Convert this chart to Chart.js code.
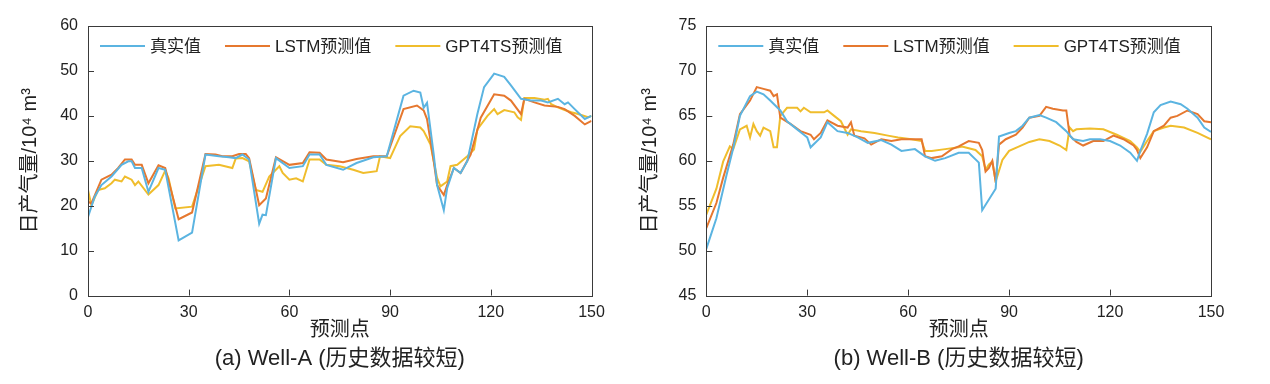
<!DOCTYPE html>
<html>
<head>
<meta charset="utf-8">
<script src="https://cdn.jsdelivr.net/npm/chart.js@4/dist/chart.umd.min.js"></script>
<style>
  html, body { margin: 0; padding: 0; background: #fff; }
  body { width: 1270px; height: 384px; position: relative; overflow: hidden; }
  canvas { position: absolute; top: 0; }
  #chartA { left: 0; }
  #chartB { left: 620px; }
</style>
</head>
<body>
<canvas id="chartA" width="635" height="384"></canvas>
<canvas id="chartB" width="650" height="384"></canvas>
<script>
// series names
const seriesNames = ["真实值", "LSTM预测值", "GPT4TS预测值"];
const seriesColors = ["#5bb4e1", "#e6782f", "#f0bd2c"];

// x ticks (预测点)
const xTicks = [0, 30, 60, 90, 120, 150];
const yTicksA = [0, 10, 20, 30, 40, 50, 60];
const yTicksB = [45, 50, 55, 60, 65, 70, 75];

// Well-A, [预测点, 日产气量]
const wellATrue = [[0,17.5],[2,22],[4,24.6],[7,26.5],[10,29.1],[12,29.9],[13,29.9],[14,28.4],[16,28.4],[18,23.1],[21,28.4],[23,28],[27,12.3],[31,14],[35,31.4],[39,31],[42,30.8],[44,30.6],[46,31.4],[48,30.3],[51,16],[52,18],[53,17.9],[56,30.6],[60,28.4],[64,28.8],[66,31.4],[69,31.4],[71,29.1],[76,28],[80,29.5],[85,30.8],[89,31],[94,44.5],[97,45.6],[99,45.2],[100,41.8],[101,42.9],[103,31.4],[104,24.6],[106,19],[107,23.9],[109,28.4],[111,27.3],[113,29.9],[116,40.4],[118,46.4],[121,49.4],[124,48.7],[126,46.8],[129,43.8],[132,43.4],[135,43.4],[137,43],[140,43.8],[142,42.6],[143,43],[145,41.5],[148,39.3],[150,40]];
const wellALstm = [[0,20.9],[1,20.5],[4,25.8],[7,26.9],[9,28.4],[11,30.3],[13,30.3],[14,29.1],[16,29.1],[18,25],[21,29],[23,28.4],[27,17],[31,18.5],[35,31.5],[38,31.4],[40,31],[43,31],[45,31.5],[47,31.5],[48,30.6],[51,20.1],[53,21.6],[56,30.8],[60,29.1],[64,29.5],[66,31.9],[69,31.8],[71,30.3],[76,29.7],[80,30.4],[85,31],[89,31],[94,41.5],[98,42.3],[100,41.2],[101,39.3],[103,29.9],[104,24.6],[106,22.4],[107,24.6],[109,28.4],[111,27.3],[114,31.4],[117,39.6],[121,44.8],[124,44.5],[126,43.4],[129,40.4],[130,43.8],[133,43],[136,42.3],[140,42],[142,41.5],[145,40],[148,38.1],[150,38.9]];
const wellAGpt = [[0,23.5],[1,20.1],[3,23.5],[5,23.9],[7,25],[8,25.8],[10,25.4],[11,26.5],[13,25.8],[14,24.6],[15,25.4],[18,22.5],[21,24.6],[23,27.8],[24,26.1],[26,19.4],[31,19.8],[35,28.8],[39,29.1],[43,28.4],[44,30.5],[46,30.6],[48,29.9],[50,23.5],[52,23.1],[54,26.5],[57,28.8],[58,27.3],[60,25.8],[62,26.1],[64,25.4],[66,30.3],[69,30.3],[71,29.1],[75,28.8],[79,28],[82,27.3],[86,27.7],[87,31],[90,30.6],[93,35.5],[96,37.7],[99,37.4],[100,36.6],[102,33.7],[104,26.2],[105,24.3],[107,25.4],[108,28.8],[110,29.1],[113,31],[115,32.5],[116,37],[119,40],[121,41.5],[122,40.4],[124,41.3],[127,40.8],[128,39.7],[129,39.1],[130,44],[133,44],[136,43.6],[137,43.8],[138,42.6],[140,41.9],[142,41.3],[144,40.8],[146,40.4],[149,39.7],[150,40]];

// Well-B
const wellBTrue = [[0,50.2],[3,53.6],[6,58.4],[8,61.4],[10,65],[13,67.2],[15,67.7],[17,67.4],[19,66.7],[22,65.6],[24,64.4],[27,63.5],[29,62.9],[30,62.6],[31,61.5],[34,62.6],[36,64.3],[39,63.3],[42,63.1],[45,62.6],[48,62],[52,62.3],[55,61.8],[58,61.1],[62,61.3],[65,60.5],[68,60],[71,60.3],[75,60.9],[78,60.9],[81,59.8],[82,54.5],[86,56.9],[87,62.7],[90,63.1],[92,63.3],[94,63.9],[96,64.8],[99,65.1],[101,64.8],[104,64.3],[107,63.3],[109,62.4],[112,62.2],[114,62.4],[117,62.4],[120,62.2],[123,61.7],[126,60.9],[128,60],[129,61.1],[131,63],[133,65.4],[135,66.2],[138,66.6],[141,66.3],[143,65.8],[146,64.8],[148,63.7],[150,63.2]];
const wellBLstm = [[0,52.5],[3,55.3],[5,58.1],[8,61.8],[10,65.2],[13,66.7],[15,68.2],[17,68],[19,67.8],[20,67.2],[21,67.4],[22,64.8],[25,64.1],[28,63.3],[31,62.9],[32,62.4],[34,63.1],[36,64.5],[39,63.9],[42,63.7],[43,64.3],[44,62.8],[47,62.5],[49,61.8],[52,62.4],[55,62.2],[58,62.4],[61,62.4],[64,62.4],[65,60.5],[67,60.3],[70,60.5],[73,61.3],[75,61.6],[78,62.2],[81,62],[82,61.2],[83,58.8],[84,59.2],[85,60],[86,57.7],[87,61.8],[89,62.4],[92,62.9],[94,63.7],[96,64.8],[99,65],[101,66],[103,65.8],[106,65.6],[107,65.6],[108,62.8],[110,62.1],[112,61.7],[115,62.2],[118,62.2],[121,62.8],[124,62.4],[127,61.7],[128,61.2],[129,60.3],[131,61.5],[133,63.3],[136,63.9],[138,64.8],[140,65],[143,65.6],[146,65.2],[148,64.4],[150,64.3]];
const wellBGpt = [[0,54],[3,56.9],[5,59.9],[7,61.6],[8,61.3],[10,63.5],[12,63.9],[13,62.6],[14,64.1],[15,63.3],[16,62.8],[17,63.7],[19,63.3],[20,61.5],[21,61.5],[22,65],[24,65.9],[27,65.9],[28,65.5],[29,65.9],[31,65.4],[35,65.4],[36,65.6],[38,65],[40,64.4],[42,62.9],[43,63.5],[46,63.3],[50,63.1],[54,62.8],[57,62.6],[61,62.4],[64,62.2],[65,61.1],[67,61.1],[71,61.3],[75,61.5],[76,61.6],[80,61.2],[82,60.5],[83,59],[84,59.6],[85,59.9],[86,57.7],[88,60.1],[90,61.1],[93,61.6],[96,62.1],[99,62.4],[102,62.2],[105,61.7],[107,61.2],[108,63.7],[109,63.3],[110,63.5],[114,63.6],[118,63.5],[122,62.9],[126,62.2],[128,61.5],[129,61],[131,62.2],[133,63.3],[136,63.7],[138,63.9],[142,63.7],[146,63.1],[150,62.4]];

const FONT = "'Liberation Sans', Arial, 'Noto Sans CJK SC', sans-serif";
Chart.defaults.font.family = FONT;
Chart.defaults.color = "#222";

// box frame + inward ticks
const framePlugin = {
  id: "frame",
  afterDatasetsDraw(chart) {
    const { ctx, chartArea: a, scales: { x, y } } = chart;
    ctx.save();
    ctx.strokeStyle = "#3a3a3a";
    ctx.lineWidth = 1;
    ctx.strokeRect(Math.round(a.left) + 0.5, Math.round(a.top) + 0.5,
      Math.round(a.right - a.left), Math.round(a.bottom - a.top));
    ctx.beginPath();
    x.ticks.forEach(t => {
      const px = Math.round(x.getPixelForValue(t.value)) + 0.5;
      ctx.moveTo(px, a.bottom);
      ctx.lineTo(px, a.bottom - 6);
    });
    y.ticks.forEach(t => {
      const py = Math.round(y.getPixelForValue(t.value)) + 0.5;
      ctx.moveTo(a.left, py);
      ctx.lineTo(a.left + 6, py);
    });
    ctx.stroke();
    ctx.restore();
  }
};

// legend drawn inside the plot box, in one row
const innerLegend = {
  id: "innerLegend",
  afterDatasetsDraw(chart) {
    const { ctx, chartArea: a } = chart;
    ctx.save();
    ctx.font = "17px " + FONT;
    ctx.textBaseline = "middle";
    ctx.fillStyle = "#222";
    let cx = a.left + 12;
    const cy = a.top + 20;
    chart.data.datasets.forEach(ds => {
      ctx.strokeStyle = ds.borderColor;
      ctx.lineWidth = 2;
      ctx.beginPath();
      ctx.moveTo(cx, cy);
      ctx.lineTo(cx + 45, cy);
      ctx.stroke();
      ctx.fillText(ds.label, cx + 50, cy + 1);
      cx += 50 + ctx.measureText(ds.label).width + 24;
    });
    ctx.restore();
  }
};

function makePanel(id, lists, yTicks, caption, yWidth, padRight) {
  new Chart(document.getElementById(id), {
    type: "line",
    data: {
      datasets: lists.map((pts, i) => ({
        label: seriesNames[i],
        data: pts.map(p => ({ x: p[0], y: p[1] })),
        borderColor: seriesColors[i],
        borderWidth: 2,
        pointRadius: 0,
        tension: 0,
        fill: false
      }))
    },
    options: {
      responsive: false,
      animation: false,
      devicePixelRatio: 1,
      layout: { padding: { top: 26, right: padRight, bottom: 10, left: 0 } },
      plugins: {
        legend: { display: false },
        tooltip: { enabled: false },
        title: {
          display: true,
          position: "bottom",
          fullSize: false,
          text: caption,
          color: "#222",
          font: { size: 22, weight: "normal" },
          padding: { top: 0, bottom: 2 }
        }
      },
      scales: {
        x: {
          type: "linear",
          min: xTicks[0],
          max: xTicks[xTicks.length - 1],
          afterBuildTicks: s => { s.ticks = xTicks.map(v => ({ value: v })); },
          afterFit: s => { s.height = 50; },
          grid: { display: false, drawTicks: false },
          border: { display: false },
          ticks: { padding: 7, font: { size: 16 }, color: "#222" },
          title: { display: true, text: "预测点", font: { size: 20 }, color: "#222", padding: { top: 0, bottom: 3 } }
        },
        y: {
          min: yTicks[0],
          max: yTicks[yTicks.length - 1],
          afterBuildTicks: s => { s.ticks = yTicks.map(v => ({ value: v })); },
          afterFit: s => { s.width = yWidth; },
          grid: { display: false, drawTicks: false },
          border: { display: false },
          ticks: { padding: 10, font: { size: 16 }, color: "#222" },
          title: { display: true, text: "日产气量/10⁴ m³", font: { size: 20 }, color: "#222", padding: { top: 18, bottom: 0 } }
        }
      }
    },
    plugins: [framePlugin, innerLegend]
  });
}

makePanel("chartA", [wellATrue, wellALstm, wellAGpt], yTicksA, "(a) Well-A (历史数据较短)", 88, 43.5);
makePanel("chartB", [wellBTrue, wellBLstm, wellBGpt], yTicksB, "(b) Well-B (历史数据较短)", 86.3, 59);
</script>
</body>
</html>
